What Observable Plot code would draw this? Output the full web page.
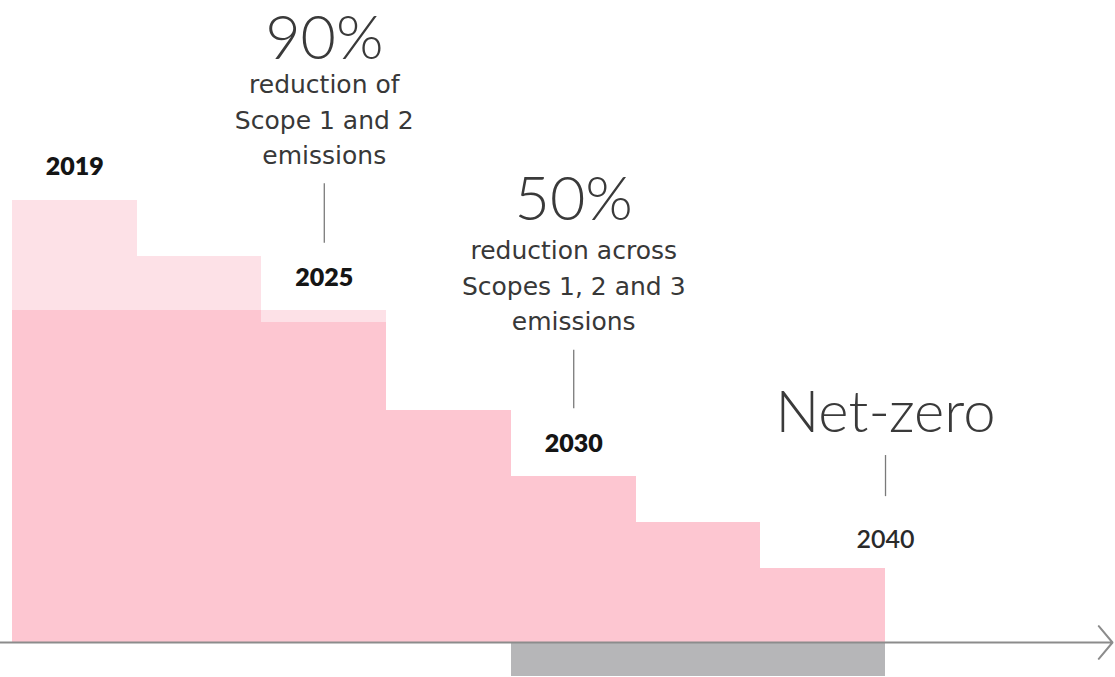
<!DOCTYPE html>
<html>
<head>
<meta charset="utf-8">
<script src="https://cdn.jsdelivr.net/npm/d3@7"></script>
<script src="https://cdn.jsdelivr.net/npm/@observablehq/plot@0.6"></script>
<style>
  html, body { margin: 0; padding: 0; background: #ffffff; }
  #chart svg { display: block; }
</style>
</head>
<body>
<div id="chart"></div>
<script>
// ---- Data (emissions index, 2019 total = 100) ----
const steps = [0, 1, 2, 3, 4, 5, 6];                       // seven periods on the pathway
const totalEmissions = [100, 87.3, 75.1];                   // lighter layer (first three periods)
const scope12Emissions = [75.1, 75.1, 72.4, 52.5, 37.6, 27.1, 16.7];
const milestoneYears = ["2019", "2025", "2030", "2040"];
const milestoneStep = [0.5, 2.5, 4.5, 7.0];
const targetHeadlines = ["90%", "50%", "Net-zero"];
const targetDetails = [
  "reduction of\nScope 1 and 2\nemissions",
  "reduction across\nScopes 1, 2 and 3\nemissions",
  ""
];
const targetStep = [2.5, 4.5, 7.0];
const periodStart2030 = 4, periodEnd2040 = 7;

// ---- Tables ----
const lightBars = totalEmissions.map((v, i) => ({x1: steps[i], x2: steps[i] + 1, v}));
const darkBars = scope12Emissions.map((v, i) => ({x1: steps[i], x2: steps[i] + 1, v}));
const yearLabels = milestoneYears.map((t, i) => ({
  t, x: milestoneStep[i], y: [107.5, 82.4, 45.0, 23.1][i], bold: i < 3
}));
const headlines = targetHeadlines.map((t, i) => ({t, x: targetStep[i], y: [136.4, 100.0, 51.8][i], big: i < 2}));
const details = targetDetails.map((t, i) => ({t, x: targetStep[i], y: [118.8, 81.2, 0][i]})).filter(d => d.t);
const leaders = targetStep.map((x, i) => ({x, y1: [103.8, 66.1, 42.3][i], y2: [90.3, 52.9, 33.0][i]}));

const chart = Plot.plot({
  width: 1115,
  height: 677,
  margin: 0,
  x: {domain: [0, 8.82], range: [12, 1112], axis: null},
  y: {domain: [0, 100], range: [642, 200], axis: null},
  style: {background: "#ffffff", fontFamily: "Lato, sans-serif"},
  marks: [
    Plot.rectY(lightBars, {x1: "x1", x2: "x2", y1: 0, y2: "v", fill: "#fde1e7", shapeRendering: "crispEdges"}),
    Plot.rectY(darkBars, {x1: "x1", x2: "x2", y1: 0, y2: "v", fill: "#fdc6d1", shapeRendering: "crispEdges"}),
    Plot.rectY([{x1: periodStart2030, x2: periodEnd2040}], {x1: "x1", x2: "x2", y1: 0, y2: -7.7, fill: "#b6b6b8", shapeRendering: "crispEdges"}),
    Plot.arrow([{x1: -0.1, x2: 8.82}], {x1: "x1", x2: "x2", y1: 0, y2: 0, stroke: "#8c8c8c", strokeWidth: 2, headLength: 16, headAngle: 100}),
    Plot.ruleX(leaders, {x: "x", y1: "y1", y2: "y2", stroke: "#7a7a7a", strokeWidth: 1.3}),
    Plot.text(yearLabels.filter(d => d.bold), {x: "x", y: "y", text: "t", fontSize: 25, fontWeight: 800, fill: "#151515", fontFamily: "Lato"}),
    Plot.text(yearLabels.filter(d => !d.bold), {x: "x", y: "y", text: "t", fontSize: 25, fontWeight: 600, fill: "#2a2a2a", fontFamily: "Lato"}),
    Plot.text(headlines.filter(d => d.big), {x: "x", y: "y", text: "t", fontSize: 61, fontWeight: 300, fill: "#3a3a3a", fontFamily: "Lato"}),
    Plot.text(headlines.filter(d => !d.big), {x: "x", y: "y", text: "t", fontSize: 58, fontWeight: 300, fill: "#3a3a3a", fontFamily: "Lato"}),
    Plot.text(details, {x: "x", y: "y", text: "t", fontSize: 25, fontWeight: 400, fill: "#383838", lineHeight: 1.42, fontFamily: "DejaVu Sans"})
  ]
});
document.getElementById("chart").appendChild(chart);
</script>
</body>
</html>
